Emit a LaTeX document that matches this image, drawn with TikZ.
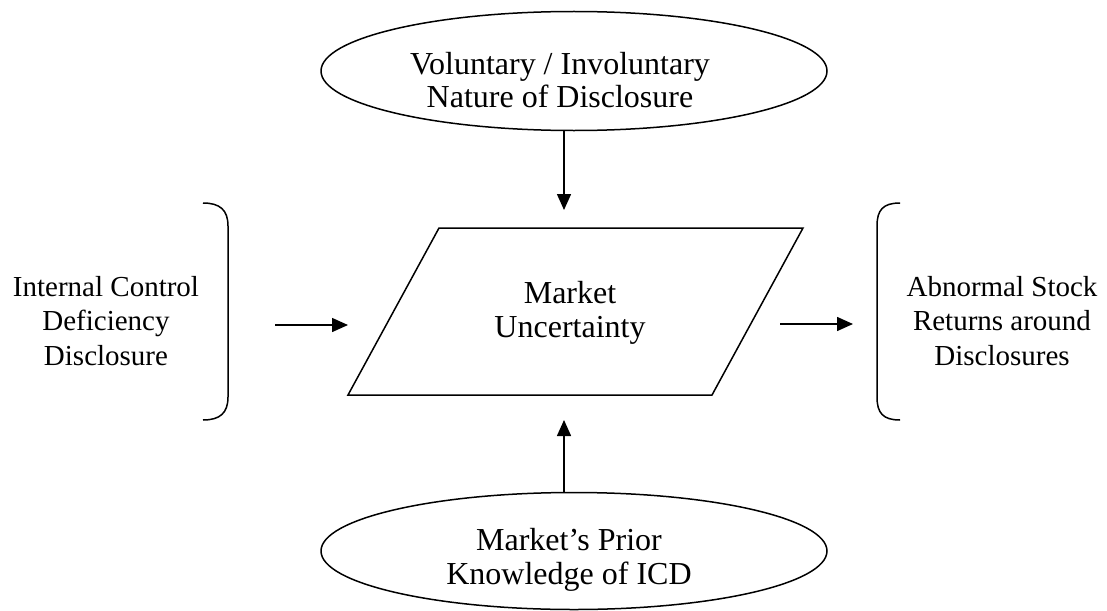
\documentclass[tikz,border=0pt]{standalone}
\usepackage{fontspec}
\setmainfont{Liberation Serif}
\usetikzlibrary{arrows.meta,shapes.geometric}
\begin{document}
\begin{tikzpicture}[x=1pt,y=-1pt,
  lbl/.style={align=center,font=\fontsize{32}{33.5}\selectfont,inner sep=0pt},
  sidelbl/.style={align=center,font=\fontsize{29}{34.5}\selectfont,inner sep=0pt},
  oval/.style={draw,ellipse,line width=1.5pt,inner sep=0pt},
  conn/.style={line width=1.5pt,-{Triangle[length=16pt,width=14pt]}},
  brk/.style={line width=1.5pt}]
\useasboundingbox (0,0) rectangle (1107,610);
% top ellipse
\node[oval,minimum width=506pt,minimum height=119pt] (top) at (574,71) {};
\node[lbl] (toptxt) at (560,80) {Voluntary / Involuntary\\Nature of Disclosure};
% parallelogram
\coordinate (p1) at (439,228);
\coordinate (p2) at (803,228);
\coordinate (p3) at (712,395);
\coordinate (p4) at (348,395);
\draw[line width=1.5pt,line join=miter] (p1) -- (p2) -- (p3) -- (p4) -- cycle;
\node[lbl] (mu) at (570,313) {Market\\Uncertainty};
% bottom ellipse
\node[oval,minimum width=506pt,minimum height=117pt] (bot) at (574,551) {};
\node[lbl] (bottxt) at (569,560) {Market’s Prior\\Knowledge of ICD};
% left
\node[sidelbl] (left) at (106,321) {Internal Control\\Deficiency\\Disclosure};
\draw[brk] (203,203) .. controls (220,203) and (228,210) .. (228,226) -- (228,397) .. controls (228,413) and (220,420) .. (203,420);
% right
\node[sidelbl] (right) at (1002,321) {Abnormal Stock\\Returns around\\Disclosures};
\draw[brk] (900,203) .. controls (883,203) and (877,210) .. (877,226) -- (877,397) .. controls (877,413) and (883,420) .. (900,420);
% arrows
\coordinate (ta) at (564,210);
\coordinate (ba) at (564,420);
\coordinate (la1) at (275,325);
\coordinate (la2) at (348,325);
\coordinate (ra1) at (780,324);
\coordinate (ra2) at (853,324);
\draw[conn] (top.south -| ta) -- (ta);
\draw[conn] (bot.north -| ba) -- (ba);
\draw[conn] (la1) -- (la2);
\draw[conn] (ra1) -- (ra2);
\end{tikzpicture}
\end{document}
